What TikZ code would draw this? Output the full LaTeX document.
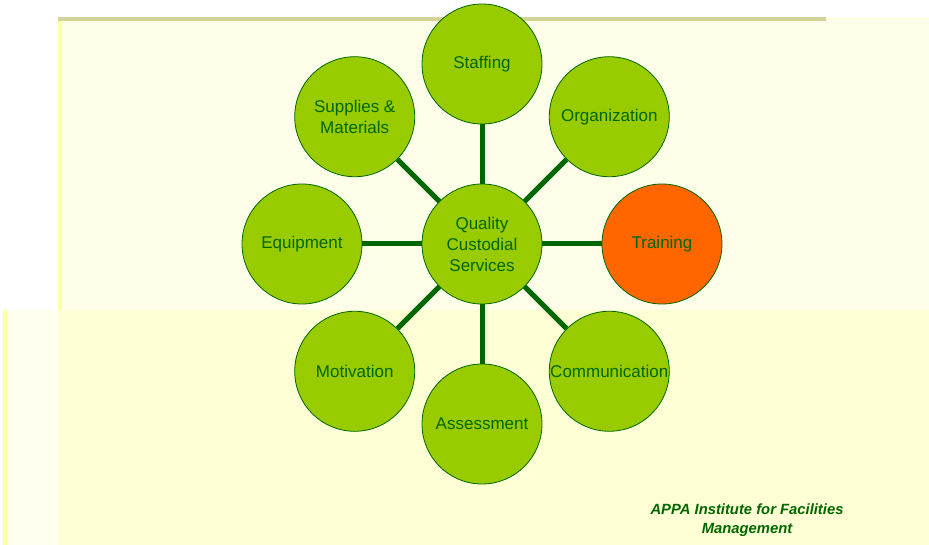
\documentclass[tikz,border=0pt]{standalone}
\usepackage{fontspec}
\setmainfont{Liberation Sans}
\usetikzlibrary{calc}
\definecolor{leaf}{HTML}{99CC00}
\definecolor{darkleaf}{HTML}{006600}
\definecolor{flame}{HTML}{FF6600}
\definecolor{paper}{HTML}{FFFFE9}
\definecolor{paperlow}{HTML}{FFFFD6}
\definecolor{paperedge}{HTML}{FFFFA4}
\definecolor{barline}{HTML}{D6D396}
\tikzset{
  topic/.style={circle, draw=darkleaf, line width=0.8pt, fill=leaf, minimum size=120pt,
    inner sep=0pt, align=center, text=darkleaf, font=\fontsize{17}{21}\selectfont},
  spoke/.style={draw=darkleaf, line width=5pt}
}
\begin{document}
\begin{tikzpicture}[x=1pt, y=-1pt]
            \useasboundingbox (0,0) rectangle (929,545);
            % slide background
            \fill[white] (0,0) rectangle (929,545);
            \fill[paper!70!white] (3,310) rectangle (58,545);
            \fill[paperedge] (3,310) rectangle (7,545);
            \fill[paper] (58,17) rectangle (929,310);
            \fill[paperedge] (58,17) rectangle (62,310);
            \fill[paperlow] (58,310) rectangle (929,545);
            \fill[barline] (58,17) rectangle (826,21);
            \def \h {180}
            \node[topic] (c) at (482,244) {Quality\\Custodial\\Services};
            \node[topic] (1) at ($(c)+(-90:\h)$) {Staffing};
            \node[topic] (2) at ($(c)+(-45:\h)$) {Organization};
            \node[topic, fill=flame] (3) at ($(c)+(0:\h)$) {Training};
            \node[topic] (4) at ($(c)+(45:\h)$) {Communication};
            \node[topic] (5) at ($(c)+(90:\h)$) {Assessment};
            \node[topic] (6) at ($(c)+(135:\h)$) {Motivation};
            \node[topic] (7) at ($(c)+(180:\h)$) {Equipment};
            \node[topic] (8) at ($(c)+(-135:\h)$) {Supplies \&\\Materials};
            \draw[spoke] (c) -- (1);
            \draw[spoke] (c) -- (2);
            \draw[spoke] (c) -- (3);
            \draw[spoke] (c) -- (4);
            \draw[spoke] (c) -- (5);
            \draw[spoke] (c) -- (6);
            \draw[spoke] (c) -- (7);
            \draw[spoke] (c) -- (8);
            \node[align=center, text=darkleaf, font=\fontsize{14.8}{19}\selectfont\bfseries\itshape]
              (credit) at (747,520) {APPA Institute for Facilities\\Management};
        \end{tikzpicture}
\end{document}
